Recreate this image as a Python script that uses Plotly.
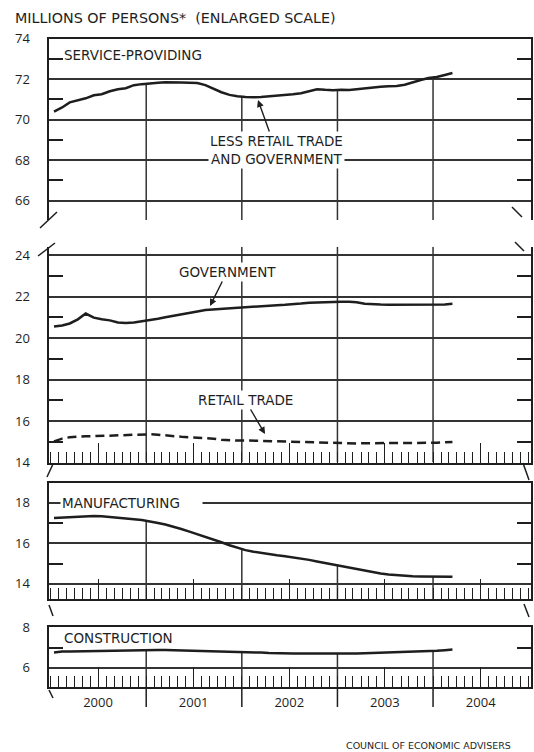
import numpy as np
import pandas as pd
import plotly.graph_objects as go

# monthly observations, Jan 2000 - Mar 2004 (plotted mid-month)
months = pd.date_range("2000-01-01", periods=51, freq="MS") + pd.Timedelta(days=14)

services_less = [70.40, 70.60, 70.85, 70.95, 71.05, 71.20, 71.25, 71.40, 71.50, 71.55, 71.70, 71.75,
                 71.80, 71.82, 71.84, 71.85, 71.83, 71.82, 71.80, 71.70, 71.52, 71.35, 71.22, 71.15,
                 71.12, 71.10, 71.12, 71.15, 71.18, 71.20, 71.25, 71.30, 71.40, 71.50, 71.47, 71.45,
                 71.47, 71.46, 71.50, 71.55, 71.58, 71.62, 71.65, 71.66, 71.72, 71.85, 71.95, 72.05,
                 72.10, 72.20, 72.30]
government = [20.55, 20.60, 20.70, 20.90, 21.18, 20.98, 20.90, 20.85, 20.75, 20.72, 20.75, 20.80,
              20.85, 20.93, 21.00, 21.08, 21.15, 21.22, 21.28, 21.35, 21.38, 21.40, 21.43, 21.45,
              21.47, 21.50, 21.53, 21.56, 21.58, 21.60, 21.62, 21.66, 21.70, 21.72, 21.74, 21.75,
              21.75, 21.75, 21.72, 21.65, 21.62, 21.61, 21.60, 21.60, 21.60, 21.60, 21.59, 21.60,
              21.60, 21.62, 21.65]
retail = [15.02, 15.15, 15.22, 15.25, 15.26, 15.27, 15.28, 15.30, 15.31, 15.33, 15.35, 15.36,
          15.36, 15.34, 15.30, 15.26, 15.24, 15.22, 15.20, 15.18, 15.15, 15.10, 15.07, 15.06,
          15.06, 15.05, 15.05, 15.04, 15.02, 15.00, 14.98, 14.97, 14.96, 14.95, 14.94, 14.93,
          14.93, 14.92, 14.92, 14.93, 14.93, 14.93, 14.93, 14.93, 14.93, 14.93, 14.93, 14.94,
          14.95, 14.97, 14.99]
manufacturing = [17.25, 17.27, 17.29, 17.31, 17.33, 17.34, 17.33, 17.30, 17.26, 17.22, 17.18, 17.14,
                 17.08, 17.00, 16.92, 16.82, 16.70, 16.57, 16.45, 16.33, 16.20, 16.05, 15.90, 15.78,
                 15.66, 15.58, 15.52, 15.46, 15.41, 15.36, 15.31, 15.25, 15.18, 15.10, 15.02, 14.95,
                 14.88, 14.80, 14.72, 14.64, 14.57, 14.51, 14.46, 14.42, 14.39, 14.37, 14.36, 14.35,
                 14.35, 14.35, 14.35]
construction = [6.76, 6.80, 6.80, 6.81, 6.82, 6.82, 6.83, 6.84, 6.85, 6.86, 6.86, 6.87,
                6.88, 6.88, 6.88, 6.87, 6.87, 6.86, 6.86, 6.85, 6.84, 6.83, 6.82, 6.81,
                6.80, 6.78, 6.75, 6.73, 6.71, 6.70, 6.70, 6.70, 6.70, 6.70, 6.70, 6.69,
                6.68, 6.69, 6.70, 6.72, 6.73, 6.74, 6.75, 6.76, 6.77, 6.78, 6.80, 6.82,
                6.84, 6.87, 6.90]

years = ["2000", "2001", "2002", "2003", "2004"]
year_starts = pd.to_datetime(["2001-01-01", "2002-01-01", "2003-01-01", "2004-01-01"])
mid_years = pd.to_datetime([y + "-07-01" for y in years])

W, H = 534, 752
INK = "#1e1e1e"
GRID = "#333333"
FONT = "Open Sans"
LABEL_FONT = "DejaVu Sans"


def px(x):
    return x / W


def py(y):
    return 1 - y / H


X_RANGE = ["1999-12-25", "2005-01-07"]
X_DOM = [px(48.5), px(530.5)]

ranges = [[65.05, 74], [14, 24.4], [13.25, 18.97], [5.05, 8]]
doms = [[py(220), py(38.5)], [py(462.5), py(246.7)], [py(599), py(483)], [py(687), py(627.3)]]

tnum = months.values.astype("datetime64[D]").astype(float)


def year_segments(series, ybot, ytop=None):
    # year divider lines run from the panel floor up to the curve (or full height)
    xs, ys = [], []
    for d in year_starts:
        v = ytop if ytop is not None else float(np.interp(np.datetime64(d, "D").astype(float), tnum, series))
        xs += [d, d, None]
        ys += [ybot, v, None]
    return xs, ys


fig = go.Figure()
line_style = dict(color=INK, width=2.5)
grid_style = dict(color=GRID, width=1.5)

xs, ys = year_segments(services_less, ranges[0][0])
fig.add_trace(go.Scatter(x=xs, y=ys, mode="lines", line=grid_style, xaxis="x", yaxis="y", hoverinfo="skip"))
fig.add_trace(go.Scatter(x=months, y=services_less, mode="lines", line=line_style, xaxis="x", yaxis="y"))

xs, ys = year_segments(government, ranges[1][0], ranges[1][1])
fig.add_trace(go.Scatter(x=xs, y=ys, mode="lines", line=grid_style, xaxis="x2", yaxis="y2", hoverinfo="skip"))
fig.add_trace(go.Scatter(x=months, y=government, mode="lines", line=line_style, xaxis="x2", yaxis="y2"))
fig.add_trace(go.Scatter(x=months, y=retail, mode="lines", line=dict(color=INK, width=2.5, dash="9px,5px"),
                         xaxis="x2", yaxis="y2"))

xs, ys = year_segments(manufacturing, ranges[2][0])
fig.add_trace(go.Scatter(x=xs, y=ys, mode="lines", line=grid_style, xaxis="x3", yaxis="y3", hoverinfo="skip"))
fig.add_trace(go.Scatter(x=months, y=manufacturing, mode="lines", line=line_style, xaxis="x3", yaxis="y3"))

xs, ys = year_segments(construction, ranges[3][0])
fig.add_trace(go.Scatter(x=xs, y=ys, mode="lines", line=grid_style, xaxis="x4", yaxis="y4", hoverinfo="skip"))
fig.add_trace(go.Scatter(x=months, y=construction, mode="lines", line=line_style, xaxis="x4", yaxis="y4"))

tickfont = dict(family=FONT, size=13, color=INK)
base_x = dict(range=X_RANGE, domain=X_DOM, type="date", showgrid=False, zeroline=False,
              showline=True, linecolor=INK, linewidth=2, tickcolor=INK, tickwidth=1.4)
bottom_x = dict(base_x, ticks="inside", tickmode="array", tickvals=mid_years, ticklen=20,
                minor=dict(tickmode="linear", tick0="2000-01-01", dtick="M1", ticks="inside",
                           ticklen=11, tickcolor=INK, tickwidth=1.4, showgrid=False))


def y_axis(i, anchor):
    return dict(range=ranges[i], domain=doms[i], anchor=anchor, dtick=2, tick0=0,
                showgrid=True, gridcolor=GRID, gridwidth=1.5, zeroline=False,
                showline=True, mirror="ticks", linecolor=INK, linewidth=2,
                ticks="inside", ticklen=0, tickfont=tickfont, ticklabelstandoff=14, automargin=False,
                minor=dict(tick0=1, dtick=2, ticks="inside", ticklen=14, tickcolor=INK, tickwidth=1.5,
                           showgrid=False))


fig.update_layout(
    width=W, height=H,
    margin=dict(l=0, r=0, t=0, b=0),
    paper_bgcolor="white", plot_bgcolor="white",
    showlegend=False,
    font=dict(family=FONT, color=INK),
    xaxis=dict(base_x, side="top", anchor="y", ticks="", showticklabels=False),
    xaxis2=dict(bottom_x, anchor="y2", showticklabels=False),
    xaxis3=dict(bottom_x, anchor="y3", mirror=True, showticklabels=False),
    xaxis4=dict(bottom_x, anchor="y4", mirror=True, showticklabels=True, ticktext=years,
                tickfont=tickfont, ticklabelstandoff=2),
    yaxis=y_axis(0, "x"),
    yaxis2=y_axis(1, "x2"),
    yaxis3=y_axis(2, "x3"),
    yaxis4=y_axis(3, "x4"),
)

label_font = dict(family=LABEL_FONT, size=13.5, color=INK)
arrow = dict(showarrow=True, arrowhead=2, arrowsize=1, arrowwidth=1.4, arrowcolor=INK, standoff=0)
annotations = [
    dict(text="MILLIONS OF PERSONS*  (ENLARGED SCALE)", x=px(13), y=py(18), xanchor="left", yanchor="middle",
         font=dict(family=LABEL_FONT, size=14.3, color=INK), showarrow=False),
    dict(text="SERVICE-PROVIDING", x=px(62), y=py(55), xanchor="left", yanchor="middle",
         font=label_font, showarrow=False),
    dict(text="LESS RETAIL TRADE<br>AND GOVERNMENT", x=px(258), y=py(100), ax=18, ay=50,
         font=label_font, bgcolor="white", **arrow),
    dict(text="GOVERNMENT", x=px(210), y=py(306), ax=17, ay=-34, font=label_font, bgcolor="white", **arrow),
    dict(text="RETAIL TRADE", x=px(265), y=py(434), ax=-20, ay=-34, font=label_font, bgcolor="white", **arrow),
    dict(text="MANUFACTURING\u00a0\u00a0\u00a0\u00a0\u00a0", x=px(60), y=py(502.5), xanchor="left",
         yanchor="middle", font=label_font, bgcolor="white", borderpad=1, showarrow=False),
    dict(text="CONSTRUCTION", x=px(62), y=py(638), xanchor="left", yanchor="middle",
         font=label_font, showarrow=False),
    dict(text="COUNCIL OF ECONOMIC ADVISERS", x=px(513), y=py(745), xanchor="right", yanchor="middle",
         font=dict(family=LABEL_FONT, size=9.5, color=INK), showarrow=False),
]
for a in annotations:
    a.setdefault("xref", "paper")
    a.setdefault("yref", "paper")
fig.update_layout(annotations=annotations)

# scale-break marks and year separators below the time axis
shapes = []
breaks = [((40, 228), (57, 212)), ((512, 207), (522, 217)),
          ((38, 256), (55, 243)), ((515, 242), (524, 251)),
          ((47, 477), (53, 464)), ((523, 463), (529, 480)),
          ((49, 605), (53, 616)), ((524, 604), (529, 617)),
          ((49, 690), (53, 698))]
for (x0, y0), (x1, y1) in breaks:
    shapes.append(dict(type="line", xref="paper", yref="paper", x0=px(x0), y0=py(y0), x1=px(x1), y1=py(y1),
                       line=dict(color=INK, width=1.5)))
for d in year_starts:
    shapes.append(dict(type="line", xref="x4", yref="paper", x0=d, x1=d, y0=py(687), y1=py(707),
                       line=dict(color=INK, width=1.5)))
fig.update_layout(shapes=shapes)

# the page's default body margin would shift the chart by 8px
fig.write_html("out.html", config={"displayModeBar": False},
               post_script="document.body.style.margin='0px';")
